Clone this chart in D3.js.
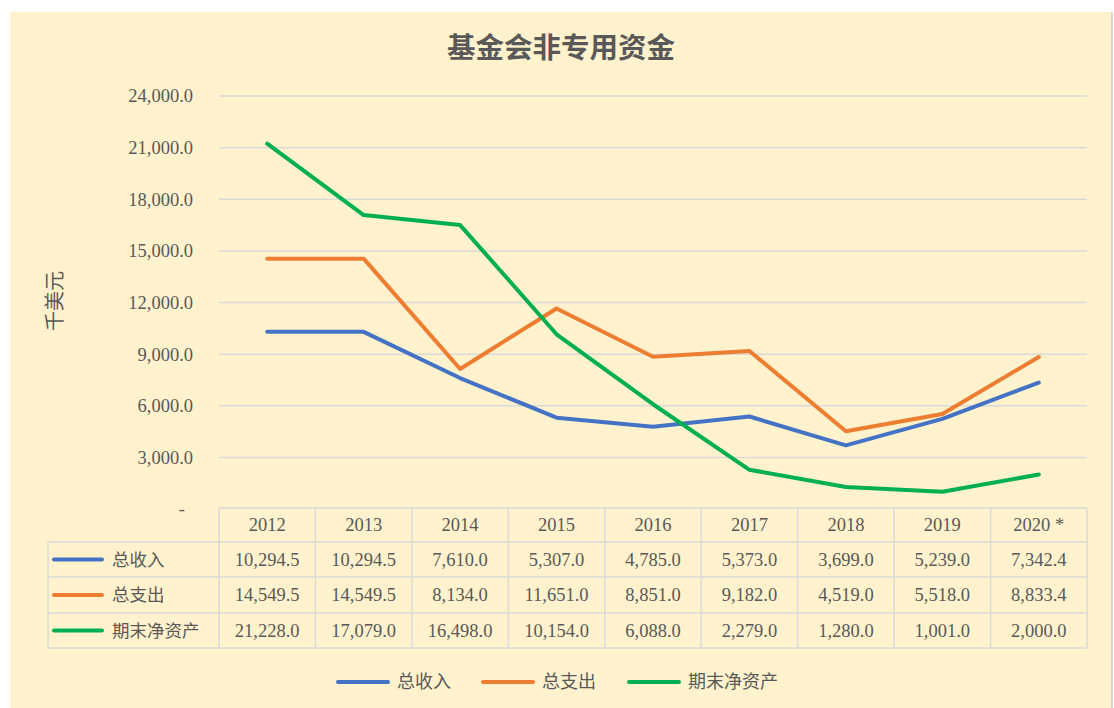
<!DOCTYPE html>
<html><head><meta charset="utf-8">
<script src="https://cdn.jsdelivr.net/npm/d3@7"></script>
<style>
html,body{margin:0;padding:0;background:#fff;}
svg{display:block;}
</style></head>
<body><svg id="c" width="1114" height="708"></svg>
<script>
const categories = ["2012","2013","2014","2015","2016","2017","2018","2019","2020 *"];
const seriesNames = ["总收入","总支出","期末净资产"];
const income = [10294.5,10294.5,7610.0,5307.0,4785.0,5373.0,3699.0,5239.0,7342.4];
const expense = [14549.5,14549.5,8134.0,11651.0,8851.0,9182.0,4519.0,5518.0,8833.4];
const netAssets = [21228.0,17079.0,16498.0,10154.0,6088.0,2279.0,1280.0,1001.0,2000.0];
const seriesColors = ["#4472c4","#ed7d31","#00b050"];
const yTicks = [0,3000,6000,9000,12000,15000,18000,21000,24000];
const chartTitle = "基金会非专用资金";
const yTitle = "千美元";

(function(){
const series = [income, expense, netAssets];
const svg = d3.select("#c");
const textColor = "#595959";
const numFont = "'Liberation Serif', 'DejaVu Serif', serif";
const cjkFont = "'Noto Sans CJK SC', 'Noto Sans', sans-serif";

// background
svg.append("rect").attr("x",10).attr("y",12).attr("width",1102).attr("height",696).attr("fill","#fff2cc");
svg.append("line").attr("x1",1112).attr("x2",1112).attr("y1",12).attr("y2",708).attr("stroke","#d0cdc4").attr("stroke-width",1.5);

const pL = 219, pR = 1087, pT = 96, pB = 509;
const x = d3.scaleBand().domain(categories).range([pL,pR]);
const y = d3.scaleLinear().domain([0,24000]).range([pB,pT]);

// title
svg.append("text").attr("x",561).attr("y",58).attr("text-anchor","middle")
  .attr("font-family",cjkFont).attr("font-weight","bold").attr("font-size",28.5)
  .attr("fill",textColor).text(chartTitle);

// y title
svg.append("text").attr("transform","translate(62,301) rotate(-90)").attr("text-anchor","middle")
  .attr("font-family",cjkFont).attr("font-size",20).attr("fill",textColor).text(yTitle);

// gridlines
svg.append("g").selectAll("line").data(yTicks.filter(d=>d>0)).join("line")
  .attr("x1",pL).attr("x2",pR).attr("y1",d=>y(d)).attr("y2",d=>y(d))
  .attr("stroke","#d9d9d9").attr("stroke-width",1.5);

// y axis labels
const fmt = d3.format(",.1f");
const yAxis = d3.axisLeft(y).tickValues(yTicks).tickSize(0).tickPadding(26)
  .tickFormat(d=> d===0 ? "-" : fmt(d));
const yg = svg.append("g").attr("transform",`translate(${pL},0)`).call(yAxis);
yg.select(".domain").remove();
yg.selectAll("text").attr("font-family",numFont).attr("font-size",18.5).attr("fill",textColor);
yg.selectAll(".tick").filter(d=>d===0).select("text").attr("dx",-8);

// lines
const line = d3.line().x((d,i)=>x(categories[i])+x.bandwidth()/2).y(d=>y(d));
series.forEach((s,k)=>{
  svg.append("path").datum(s).attr("d",line).attr("fill","none")
    .attr("stroke",seriesColors[k]).attr("stroke-width",4).attr("stroke-linejoin","round").attr("stroke-linecap","round");
});

// data table
const rowY = [508,542,577,613,648];
const tableLeft = 48;
const gridC = "#d9d9d9";
const tg = svg.append("g");
tg.append("line").attr("x1",pL).attr("x2",pR).attr("y1",rowY[0]).attr("y2",rowY[0]);
for(let r=1;r<rowY.length;r++){
  tg.append("line").attr("x1",tableLeft).attr("x2",pR).attr("y1",rowY[r]).attr("y2",rowY[r]);
}
tg.append("line").attr("x1",tableLeft).attr("x2",tableLeft).attr("y1",rowY[1]).attr("y2",rowY[4]);
categories.forEach(c=>{
  tg.append("line").attr("x1",x(c)).attr("x2",x(c)).attr("y1",rowY[0]).attr("y2",rowY[4]);
});
tg.append("line").attr("x1",pR).attr("x2",pR).attr("y1",rowY[0]).attr("y2",rowY[4]);
tg.selectAll("line").attr("stroke",gridC).attr("stroke-width",1.5);

tg.selectAll("text.h").data(categories).join("text").attr("class","h")
  .attr("x",d=>x(d)+x.bandwidth()/2).attr("y",(rowY[0]+rowY[1])/2)
  .attr("dy","0.35em").attr("text-anchor","middle")
  .attr("font-family",numFont).attr("font-size",18.5).attr("fill",textColor).text(d=>d);

series.forEach((s,k)=>{
  const cy = (rowY[k+1]+rowY[k+2])/2;
  tg.append("line").attr("x1",54).attr("x2",102).attr("y1",cy).attr("y2",cy)
    .attr("stroke",seriesColors[k]).attr("stroke-width",4).attr("stroke-linecap","round");
  tg.append("text").attr("x",112).attr("y",cy).attr("dy","0.35em")
    .attr("font-family",cjkFont).attr("font-size",17.5).attr("fill",textColor).text(seriesNames[k]);
  tg.selectAll(null).data(s).join("text")
    .attr("x",(d,i)=>x(categories[i])+x.bandwidth()/2).attr("y",cy).attr("dy","0.35em")
    .attr("text-anchor","middle").attr("font-family",numFont).attr("font-size",18.5)
    .attr("fill",textColor).text(d=>fmt(d));
});

// legend
const legX = [338,483,629];
const lg = svg.append("g");
seriesNames.forEach((n,k)=>{
  lg.append("line").attr("x1",legX[k]).attr("x2",legX[k]+50).attr("y1",682).attr("y2",682)
    .attr("stroke",seriesColors[k]).attr("stroke-width",4).attr("stroke-linecap","round");
  lg.append("text").attr("x",legX[k]+59).attr("y",682).attr("dy","0.35em")
    .attr("font-family",cjkFont).attr("font-size",18).attr("fill",textColor).text(n);
});
})();
</script></body></html>
